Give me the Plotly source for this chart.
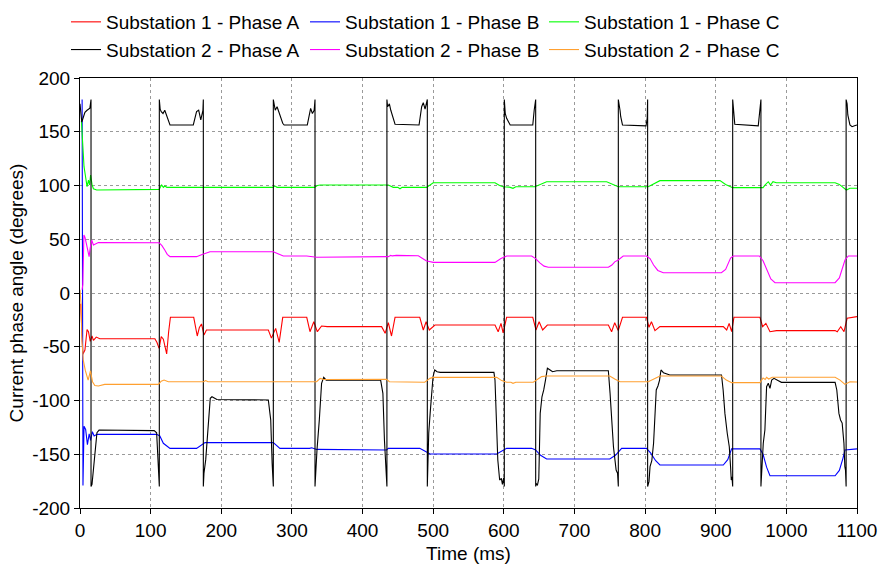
import plotly.graph_objects as go

# Time axis (ms) and phase angle (degrees) breakpoints for each measured phase current.

S1_A_T = [1, 4, 7, 10, 12, 14.5, 17, 19, 23, 28, 106, 109, 112, 115, 118, 120.5, 122.7, 125.5, 128,
          161, 163.5, 166, 169, 172, 175.5, 179, 266.6, 271, 277, 282, 287, 321, 325.6, 331, 336, 342, 350,
          427, 432, 436.5, 441, 446, 481, 486, 490, 494.5, 502.5, 587.5, 592, 596, 599, 604, 641, 645.5,
          650, 655, 661.6, 748, 752.6, 757, 762, 765, 768, 802, 805.5, 809, 814, 821, 910.7, 915.5, 919,
          922.5, 925.8, 962.6, 966.4, 971, 976.8, 986, 1069, 1072, 1077, 1081.6, 1086, 1100]
S1_A_DEG = [-10, -57, -53, -34, -36, -45, -40, -44, -41, -42.5, -42.5, -46, -51.5, -40.6, -43, -50, -56.7, -36, -22.6,
            -22.6, -30, -40, -32, -28.8, -39, -34.4, -34.4, -42, -32.9, -46, -22.6, -22.6, -36, -26.7, -36, -30.7, -31.3,
            -31.3, -37.5, -27.6, -40, -22.6, -22.6, -34.4, -26.7, -34.4, -29.8, -29.8, -36, -28.2, -37, -22.6, -22.6, -34.4,
            -26.7, -34.4, -29.8, -29.8, -36, -27.6, -35, -28, -22.6, -22.6, -31.9, -26.7, -35, -31.3, -31.3, -34.4, -28.2,
            -36, -22.6, -22.6, -31.3, -28.2, -36, -35, -35, -36, -31.3, -36, -23.5, -22]

S1_B_T = [3, 4.2, 5.7, 8, 10.5, 13, 15, 17.5, 20, 24, 108.5, 113, 118, 122, 127.4, 165, 171, 177,
          273.7, 278, 283, 325, 328, 335, 434, 436.5, 481, 488, 495.5, 590, 597, 604, 639.4, 645, 652, 660.6,
          750, 758, 766.8, 802, 808, 815, 821, 910.7, 917, 922.5, 962.6, 967, 972, 976.8, 1069, 1075, 1080,
          1083, 1100]
S1_B_DEG = [180, -179, -124, -127, -141, -131, -137, -129, -133, -131.5, -131.5, -133, -139.8, -142, -144.5, -144.5,
            -141.5, -139.2, -139.2, -142, -144.5, -144.5, -144, -145.5, -146, -144.5, -144.5, -147, -149.8, -149.8,
            -147, -144.5, -144.5, -146, -151, -154.4, -154.4, -151, -144.5, -144.5, -149, -156, -160, -160, -155,
            -145, -145, -150, -162, -170, -170, -165, -154, -146, -145]

S1_C_T = [2, 3, 4, 5.7, 7.5, 10, 12, 13.5, 15, 17, 19, 23.6, 112, 115.6, 118, 120, 123, 273, 276, 279,
          332, 336, 340, 436.5, 443.5, 450, 453, 456, 490.7, 496, 500, 587.5, 594, 599, 608, 613, 617, 644,
          652, 656, 660.6, 745.6, 754, 762, 804.5, 812, 816, 821, 906, 914, 924, 967, 970, 974.4, 977.6, 981,
          986, 1069, 1075, 1081, 1085, 1090, 1100]
S1_C_DEG = [160, 150, 131, 117.5, 109.8, 98.9, 105, 100.5, 109.8, 101, 97, 95.8, 96.4, 100.5, 98.3, 99.5, 98.3,
            98.3, 99.5, 98.3, 98.3, 100, 100.5, 100.5, 98.3, 98.3, 97, 98.3, 98.3, 100.5, 102.6, 102.6, 100, 98.9,
            98.5, 97.4, 98.9, 98.9, 101, 102, 103.5, 103.5, 101, 98.9, 98.9, 101.5, 102.5, 104.5, 104.5, 101, 98,
            98, 100.5, 103.5, 100.5, 103.5, 102.6, 102.6, 101, 97.5, 95.8, 97.4, 97.4]

# Phase A of substation 2 wraps between +180 and -180 degrees.
S2_A_T = [0, 1.5, 2.5, 4.5, 7, 10, 14, 15.6, 15.6, 17, 19, 21, 24, 27, 105, 108.5, 111.8, 112.3, 112.3,
          113.5, 115, 117.5, 120, 127.4, 160.4, 165, 168, 171, 174, 174.6, 174.6, 175.5, 178, 181, 184.4,
          186.8, 193.8, 266.6, 270, 272, 273.7, 273.7, 276.4, 279, 287, 289, 321.8, 326.5, 329, 331.5,
          332.7, 332.7, 333.5, 335.5, 338.8, 342, 345, 348.6, 425.6, 428.8, 431, 433.6, 434.5, 434.5,
          435.5, 438, 440, 446, 480, 483.7, 486, 488.5, 490, 491.7, 491.7, 492.3, 493.7, 495.7, 497.5,
          499.8, 502.2, 505.5, 510, 586, 587.5, 589.4, 591.5, 594.1, 596.5, 598, 599.8, 600.7, 600.7, 602,
          604, 609, 641, 643, 644.6, 645.1, 645.1, 645.6, 647.5, 649.5, 650.5, 651.5, 654, 656.5, 659,
          661.7, 665.5, 669, 675, 748, 750.4, 752.8, 755.2, 759, 761, 762.1, 762.1, 764.5, 765.5, 768,
          801.3, 803, 803.6, 803.6, 805.5, 807, 809.5, 812, 813.5, 815.8, 818.2, 820.5, 822.5, 826, 835,
          908.2, 910.5, 913, 916.3, 919.2, 921, 922, 923, 924, 924, 925, 927, 960.2, 962.6, 964, 964,
          965.4, 967.3, 969.6, 972, 974.4, 976.8, 979.2, 982.5, 988.7, 993, 1069, 1071.4, 1074.4, 1076.7,
          1079, 1081.5, 1082.8, 1083.7, 1084.6, 1084.6, 1086, 1087, 1090, 1093, 1096.5, 1100]
S2_A_DEG = [176, 168, 159, 163, 168, 170, 172, 180, -180, -178, -165, -150, -130, -127.5, -128, -130, -166, -180, 180,
            171, 168.7, 167, 170, 156.3, 156.3, 168.7, 170, 161, 170, 180, -180, -167.7, -155, -125, -98,
            -96.5, -99, -99.5, -118, -158.4, -180, 180, 170, 173.3, 157.9, 156.3, 156.3, 171.8, 167, 170,
            180, -180, -164.7, -146, -118, -84, -78.4, -81, -81, -93.3, -136.7, -171, -180, 180,
            173.3, 176, 170, 157, 156.3, 173.3, 177, 171, 176, 180, -180, -161.6, -130.5, -112, -96.5,
            -77.9, -71.6, -73.2, -73.8, -73.8, -81, -118.1, -155.3, -174, -172.4, -178, -172, -180, 180, 167.1,
            162.5, 156.3, 156.3, 170, 178, 180, -180, -177, -179, -173, -143, -112, -96.5, -90.2, -81,
            -70, -71.6, -73.2, -72.3, -72.3, -93.3, -121.2, -143, -164.7, -167.7, -180, 180, 170, 164, 156.3,
            155.5, 162.5, 180, -180, -175.5, -161.6, -156, -139.8, -118.1, -90.2, -86.5, -81, -71.6, -74.1, -76.3,
            -76.3, -90.2, -112, -130.5, -143, -161.6, -174, -171, -180, 180, 170, 157, 155.5, 170, 180, -180,
            -157, -139.8, -127.4, -87.1, -84, -88.7, -81, -79.4, -81.6, -83.1, -83.1, -90.2, -112, -118.1,
            -121, -139.8, -161.6, -164.7, -180, 180, 176, 165.6, 156.3, 154.7, 155.5, 156.3]

S2_B_T = [3, 4, 5.5, 7, 9.4, 11, 12.9, 14.5, 16.5, 19, 22, 26, 112, 116, 120, 123.5, 127.4, 165, 172, 178,
          184, 273.7, 280, 287.8, 321, 328, 335, 436.5, 440, 442, 448, 479, 485, 490, 500, 587.5, 596, 604,
          639.4, 645, 651, 657, 663, 748, 753, 757, 762, 769, 802, 807, 812, 818, 825.8, 908, 914, 918, 921,
          924.8, 961.7, 967, 973, 978, 983.9, 1069, 1075, 1080, 1083, 1087.7, 1100]
S2_B_DEG = [3, 8, 54, 52, 44.7, 40, 33.8, 42, 49.3, 44.7, 46, 47, 46.8, 44, 40, 36, 33.8, 33.8, 35.5, 37,
            38.4, 38.4, 36.5, 34.4, 34.4, 33.5, 33.2, 33.8, 35, 34.5, 35, 34.7, 32, 30, 28.5, 28.5, 32, 34.4,
            34.4, 32, 28, 25, 23.9, 23.9, 26, 29, 30.7, 34.4, 34.4, 32, 26, 21, 18.9, 18.9, 22, 28, 32.5,
            34.4, 34.4, 30, 20, 13, 9.6, 9.6, 14, 25, 30.7, 34.4, 34.4]

S2_C_T = [0, 1.5, 2.5, 4.5, 7.5, 11.5, 14.8, 17.7, 21, 26, 35, 111, 115, 119, 125, 175, 178, 181, 335, 340,
          345, 434, 438, 488, 495.5, 500, 590, 597, 604, 610, 613, 617, 641.7, 648, 653.5, 660, 750, 757,
          764.5, 804.5, 812, 821, 908, 915, 922.5, 962.6, 967, 970, 972, 975, 980, 1069, 1076, 1083, 1090,
          1100]
S2_C_DEG = [3, -10, -40, -62, -72, -81, -72.5, -82.5, -86, -86.5, -85, -85, -82, -81, -82.5, -82.5, -81.5,
            -82.5, -82.5, -79.4, -80.5, -80.3, -82.5, -83, -79.4, -78.5, -78.5, -81.5, -83, -83, -84, -83,
            -83, -80, -77.8, -77.2, -77.2, -80, -82.5, -82.5, -80, -77.2, -77.2, -81, -83.4, -83.4, -79,
            -80.5, -78.4, -80, -78.4, -78.4, -81, -85, -82.5, -82.8]

SERIES = [
    ("Substation 1 - Phase A", S1_A_T, S1_A_DEG, "#ff0000"),
    ("Substation 1 - Phase B", S1_B_T, S1_B_DEG, "#0000ff"),
    ("Substation 1 - Phase C", S1_C_T, S1_C_DEG, "#00ff00"),
    ("Substation 2 - Phase A", S2_A_T, S2_A_DEG, "#000000"),
    ("Substation 2 - Phase B", S2_B_T, S2_B_DEG, "#ff00ff"),
    ("Substation 2 - Phase C", S2_C_T, S2_C_DEG, "#ffa030"),
]

X_TICKS = [0, 100, 200, 300, 400, 500, 600, 700, 800, 900, 1000, 1100]
X_TICK_LABELS = ["0", "100", "200", "300", "400", "500", "600", "700", "800", "900", "1000", "1100"]
Y_TICKS = [-200, -150, -100, -50, 0, 50, 100, 150, 200]
Y_TICK_LABELS = ["-200", "-150", "-100", "-50", "0", "50", "100", "150", "200"]

FONT = "Liberation Sans, Arial, sans-serif"

fig = go.Figure()
for name, t, deg, color in SERIES:
    fig.add_trace(go.Scatter(x=t, y=deg, mode="lines", name=name,
                             line=dict(color=color, width=1.1)))

axis_common = dict(
    showline=True, mirror=True, linecolor="#000000", linewidth=1,
    showgrid=True, gridcolor="#9a9a9a", griddash="dot", gridwidth=1,
    zeroline=False, ticks="outside", ticklen=5, tickcolor="#000000",
    tickfont=dict(family=FONT, size=19, color="#000000"),
)

fig.update_xaxes(range=[0, 1100], tickvals=X_TICKS, ticktext=X_TICK_LABELS,
                 title=dict(text="Time (ms)", font=dict(family=FONT, size=19, color="#000000"), standoff=6),
                 **axis_common)
fig.update_yaxes(range=[-200, 200], tickvals=Y_TICKS, ticktext=Y_TICK_LABELS,
                 title=dict(text="Current phase angle (degrees)",
                            font=dict(family=FONT, size=19, color="#000000"), standoff=3),
                 **axis_common)

fig.update_layout(
    width=884, height=568,
    margin=dict(l=80, r=27, t=78, b=60, autoexpand=False),
    plot_bgcolor="#ffffff", paper_bgcolor="#ffffff",
    font=dict(family=FONT, size=19, color="#000000"),
    legend=dict(orientation="h", xref="container", yref="container",
                x=66 / 884, y=1 - 3 / 568, xanchor="left", yanchor="top",
                entrywidth=194, entrywidthmode="pixels",
                font=dict(family=FONT, size=19, color="#000000"),
                itemwidth=30, tracegroupgap=0, bgcolor="rgba(0,0,0,0)"),
)

fig.write_html("out.html")
